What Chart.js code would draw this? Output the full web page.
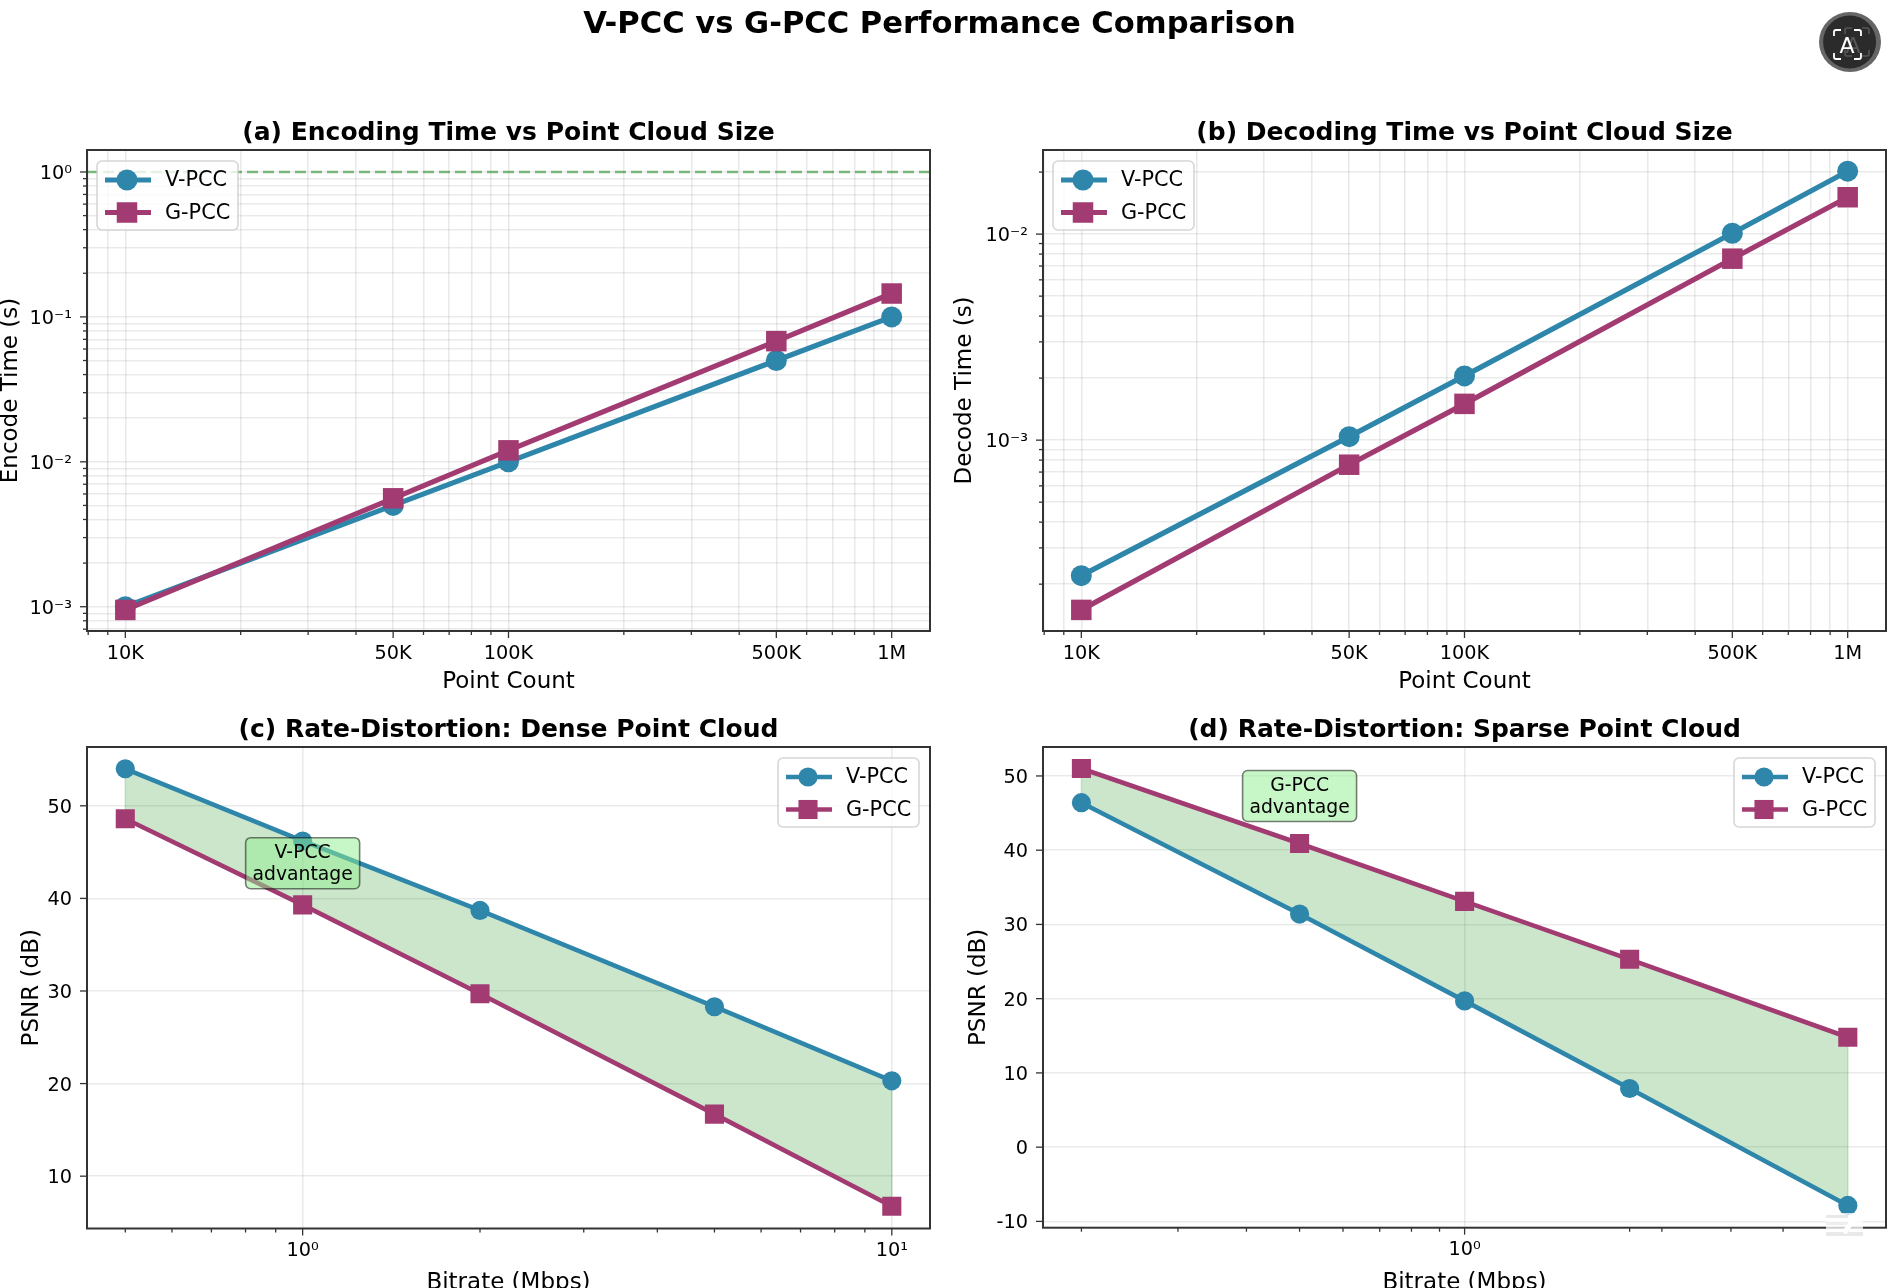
<!DOCTYPE html>
<html>
<head>
<meta charset="utf-8">
<title>V-PCC vs G-PCC Performance Comparison</title>
<script src="https://cdn.jsdelivr.net/npm/chart.js@4"></script>
<style>
  html, body { margin: 0; background: #fff; }
  body { position: relative; width: 1888px; height: 1288px; overflow: hidden; font-family: "DejaVu Sans", sans-serif; }
  canvas { position: absolute; }
  #heading { position: absolute; left: 0; width: 1879px; top: 5px; text-align: center; font-size: 30.6px; font-weight: bold; line-height: 36px; color: #000; will-change: transform; }
  svg.overlay { position: absolute; }
</style>
</head>
<body>
<div id="heading">V-PCC vs G-PCC Performance Comparison</div>
<canvas id="encode"></canvas>
<canvas id="decode"></canvas>
<canvas id="dense"></canvas>
<canvas id="sparse"></canvas>

<svg class="overlay" style="left:1816px;top:8px" width="70" height="68" viewBox="0 0 70 68">
  <ellipse cx="34" cy="34" rx="31" ry="30" fill="#666"/>
  <circle cx="33.6" cy="34" r="26.5" fill="#2b2b2b"/>
  <g fill="none" stroke="#555" stroke-width="1.6">
    <path d="M29 26v-4a2 2 0 0 1 2-2h5M46 20h5a2 2 0 0 1 2 2v4M53 42v4a2 2 0 0 1-2 2h-5M36 48h-5a2 2 0 0 1-2-2v-4"/>
  </g>
  <text x="37" y="45" font-size="22" fill="#555" text-anchor="middle" font-family="DejaVu Sans">A</text>
  <g fill="none" stroke="#fff" stroke-width="1.8">
    <path d="M18 28v-4a2 2 0 0 1 2-2h5M38 22h5a2 2 0 0 1 2 2v4M45 45v4a2 2 0 0 1-2 2h-5M25 51h-5a2 2 0 0 1-2-2v-4"/>
  </g>
  <text x="31" y="45" font-size="22" fill="#fff" text-anchor="middle" font-family="DejaVu Sans">A</text>
</svg>
<svg class="overlay" style="left:1826px;top:1213px" width="37" height="23" viewBox="0 0 37 23">
  <rect width="37" height="23" fill="#fff" opacity="0.75"/>
  <rect y="2" width="22" height="3" fill="#e9e9e9"/>
  <rect y="9" width="26" height="3" fill="#eee"/>
  <rect y="19" width="37" height="4" fill="#e9e9e9"/>
  <path d="M18 20L30 3" stroke="#fff" stroke-width="5"/>
</svg>

<script>
const V_COLOR = '#2E86AB';
const G_COLOR = '#A23B72';

// point cloud timing
const pointCounts = [1e4, 5e4, 1e5, 5e5, 1e6];
const pointLabels = ['10K', '50K', '100K', '500K', '1M'];
const encodeV = [0.001, 0.005, 0.01, 0.05, 0.1];
const encodeG = [0.00095, 0.0056, 0.012, 0.068, 0.145];
const decodeV = [0.00022, 0.00104, 0.00205, 0.0101, 0.0202];
const decodeG = [0.00015, 0.00076, 0.0015, 0.0076, 0.0151];
const realtimeLimit = 1;

// rate-distortion
const denseBitrates = [0.5, 1, 2, 5, 10];
const densePsnrV = [54, 46.2, 38.7, 28.3, 20.3];
const densePsnrG = [48.6, 39.3, 29.7, 16.7, 6.75];
const sparseBitrates = [0.2, 0.5, 1, 2, 5];
const sparsePsnrV = [46.4, 31.4, 19.7, 7.9, -7.85];
const sparsePsnrG = [51, 40.9, 33.1, 25.3, 14.8];

// axis ticks
const powerValues = [1e-3, 1e-2, 1e-1, 1];
const powerLabels = ['10⁻³', '10⁻²', '10⁻¹', '10⁰'];
const bitrateValues = [1, 10];
const bitrateLabels = ['10⁰', '10¹'];
const sparseBitrateTicks = [0.2, 0.3, 0.4, 0.5, 0.6, 0.7, 0.8, 0.9, 1, 2, 2.29, 3.06, 3.81, 5];
const densePsnrTicks = [10, 20, 30, 40, 50];
const sparsePsnrTicks = [-10, 0, 10, 20, 30, 40, 50];

const FONT = 'DejaVu Sans';
Chart.defaults.font.family = FONT;
Chart.defaults.color = '#000';

function logTicks(min, max) {
    const out = [];
    for (let e = Math.floor(Math.log10(min)); e <= Math.ceil(Math.log10(max)); e++) {
        for (let m = 1; m <= 9; m++) {
            const v = Number((m * Math.pow(10, e)).toPrecision(3));
            if (v >= min && v <= max) out.push(v);
        }
    }
    return out;
}

function findValue(values, v) {
    return values.findIndex(m => Math.abs(m / v - 1) < 1e-6);
}

// frame, tick marks, legend and the text box, all placed from the chart's scales
const panelDecor = {
    id: 'panelDecor',
    afterDatasetsDraw(chart) {
        const { ctx, chartArea: a, scales } = chart;
        ctx.save();
        ctx.strokeStyle = '#333';
        ctx.lineWidth = 1.3;
        scales.x.ticks.forEach(t => {
            const x = scales.x.getPixelForValue(t.value);
            ctx.beginPath();
            ctx.moveTo(x, a.bottom);
            ctx.lineTo(x, a.bottom + (t.major ? 7 : 4));
            ctx.stroke();
        });
        scales.y.ticks.forEach(t => {
            const y = scales.y.getPixelForValue(t.value);
            const minor = scales.y.type === 'logarithmic' && !t.major;
            ctx.beginPath();
            ctx.moveTo(a.left, y);
            ctx.lineTo(a.left - (minor ? 4 : 7), y);
            ctx.stroke();
        });
        ctx.lineWidth = 2;
        ctx.strokeRect(a.left, a.top, a.right - a.left, a.bottom - a.top);
        ctx.restore();
    },
    afterDraw(chart, args, opts) {
        const { ctx, chartArea: a, scales } = chart;
        ctx.save();
        if (opts.note) {
            const cx = scales.x.getPixelForValue(opts.note.x);
            const cy = scales.y.getPixelForValue(opts.note.y);
            ctx.beginPath();
            ctx.roundRect(cx - 57, cy - 25.5, 114, 51, 5);
            ctx.fillStyle = 'rgba(144,238,144,0.5)';
            ctx.fill();
            ctx.strokeStyle = 'rgba(0,0,0,0.5)';
            ctx.lineWidth = 1.6;
            ctx.stroke();
            ctx.fillStyle = '#000';
            ctx.font = '18.8px "' + FONT + '"';
            ctx.textAlign = 'center';
            ctx.textBaseline = 'middle';
            opts.note.lines.forEach((line, i) => ctx.fillText(line, cx, cy - 10 + i * 22));
        }
        const w = 141, h = 69;
        const left = opts.legendSide === 'left' ? a.left + 10 : a.right - 11 - w;
        const top = a.top + 11;
        ctx.beginPath();
        ctx.roundRect(left, top, w, h, 5);
        ctx.fillStyle = 'rgba(255,255,255,0.8)';
        ctx.fill();
        ctx.strokeStyle = 'rgba(204,204,204,0.8)';
        ctx.lineWidth = 1.6;
        ctx.stroke();
        chart.data.datasets.filter(d => d.inLegend).forEach((d, i) => {
            const y = top + 19 + i * 32.5;
            ctx.strokeStyle = d.borderColor;
            ctx.lineWidth = d.borderWidth;
            ctx.beginPath();
            ctx.moveTo(left + 8, y);
            ctx.lineTo(left + 54, y);
            ctx.stroke();
            ctx.fillStyle = d.borderColor;
            ctx.beginPath();
            if (d.pointStyle === 'rect') {
                const s = d.pointRadius * Math.SQRT1_2;
                ctx.rect(left + 30 - s, y - s, 2 * s, 2 * s);
            } else {
                ctx.arc(left + 30, y, d.pointRadius, 0, Math.PI * 2);
            }
            ctx.fill();
            ctx.fillStyle = '#000';
            ctx.font = '20.8px "' + FONT + '"';
            ctx.textAlign = 'left';
            ctx.textBaseline = 'middle';
            ctx.fillText(d.label, left + 68, y + 1);
        });
        ctx.restore();
    }
};

function series(label, color, style, xs, ys, size) {
    return {
        label: label,
        inLegend: true,
        data: xs.map((x, i) => ({ x: x, y: ys[i] })),
        borderColor: color,
        backgroundColor: color,
        borderWidth: size.line,
        pointStyle: style,
        pointRadius: style === 'rect' ? size.square : size.circle,
        pointBackgroundColor: color,
        pointBorderWidth: 0,
        tension: 0,
        fill: false,
        order: style === 'rect' ? 1 : 2
    };
}

function fillEdge(x, y0, y1) {
    return {
        data: [{ x: x, y: y0 }, { x: x, y: y1 }],
        borderColor: 'rgba(0,128,0,0.2)',
        borderWidth: 1.5,
        pointRadius: 0,
        fill: false,
        order: 3
    };
}

function makePanel(id, box, cfg) {
    const canvas = document.getElementById(id);
    const cLeft = box.yTitleX - 14;
    const cTop = box.t - 34;
    const width = Math.round(box.r + 3 - cLeft);
    const height = Math.round(box.xTitleY + 14 - cTop);
    canvas.width = width;
    canvas.height = height;
    canvas.style.left = cLeft + 'px';
    canvas.style.top = cTop + 'px';

    const gridLine = 'rgba(128,128,128,0.17)';
    new Chart(canvas, {
        type: 'line',
        data: { datasets: cfg.datasets },
        plugins: [panelDecor],
        options: {
            responsive: false,
            animation: false,
            layout: { autoPadding: false, padding: { right: 3 } },
            plugins: {
                legend: { display: false },
                tooltip: { enabled: false },
                title: {
                    display: true,
                    text: cfg.title,
                    fullSize: false,
                    font: { size: 25, weight: 'bold' },
                    color: '#000',
                    padding: { top: 2.5, bottom: 1.5 }
                },
                panelDecor: { legendSide: cfg.legendSide, note: cfg.note }
            },
            scales: {
                x: {
                    type: 'logarithmic',
                    bounds: 'data',
                    min: cfg.xMin,
                    max: cfg.xMax,
                    afterBuildTicks(scale) {
                        scale.ticks = cfg.xTicks.map(v => ({ value: v, major: findValue(cfg.xMajor, v) >= 0 }));
                    },
                    afterFit(scale) { scale.height = height - (box.b - cTop); },
                    grid: {
                        drawTicks: false,
                        lineWidth: 1.6,
                        color: c => (cfg.minorGrid || (c.tick && c.tick.major)) ? gridLine : 'rgba(0,0,0,0)'
                    },
                    border: { display: false },
                    ticks: {
                        autoSkip: false,
                        maxRotation: 0,
                        padding: 11,
                        color: '#000',
                        font: { size: 19.3 },
                        callback(v) {
                            const i = findValue(cfg.xMajor, v);
                            return i < 0 ? '' : cfg.xLabels[i];
                        }
                    },
                    title: { display: true, text: cfg.xTitle, font: { size: 23 }, color: '#000', padding: 0 }
                },
                y: {
                    type: cfg.yLog ? 'logarithmic' : 'linear',
                    bounds: 'data',
                    min: cfg.yMin,
                    max: cfg.yMax,
                    afterBuildTicks(scale) {
                        const list = cfg.yLog ? logTicks(cfg.yMin, cfg.yMax) : cfg.yTicks;
                        scale.ticks = list.map(v => ({ value: v, major: !cfg.yLog || findValue(powerValues, v) >= 0 }));
                    },
                    afterFit(scale) { scale.width = box.l - cLeft; },
                    grid: { drawTicks: false, lineWidth: 1.6, color: gridLine },
                    border: { display: false },
                    ticks: {
                        autoSkip: false,
                        padding: 15,
                        labelOffset: 2,
                        color: '#000',
                        font: { size: 19.3 },
                        callback(v) {
                            if (!cfg.yLog) return String(v);
                            const i = findValue(powerValues, v);
                            return i < 0 ? '' : powerLabels[i];
                        }
                    },
                    title: { display: true, text: cfg.yTitle, font: { size: 23 }, color: '#000', padding: 0 }
                }
            }
        }
    });
}

const timingSize = { line: 5.2, circle: 10.5, square: 14.5 };
const rdSize = { line: 4.6, circle: 9.6, square: 13.5 };
const countTicks = logTicks(7943, 1259000);

makePanel('encode', { l: 87, t: 150, r: 929.5, b: 631, yTitleX: 11, xTitleY: 682 }, {
    title: '(a) Encoding Time vs Point Cloud Size',
    datasets: [
        series('V-PCC', V_COLOR, 'circle', pointCounts, encodeV, timingSize),
        series('G-PCC', G_COLOR, 'rect', pointCounts, encodeG, timingSize),
        {
            data: [{ x: 7943, y: realtimeLimit }, { x: 1259000, y: realtimeLimit }],
            borderColor: 'rgba(0,128,0,0.5)',
            borderWidth: 2.6,
            borderDash: [11, 5],
            pointRadius: 0,
            fill: false,
            order: 3
        }
    ],
    xMin: 7943, xMax: 1259000, xTicks: countTicks, xMajor: pointCounts, xLabels: pointLabels,
    xTitle: 'Point Count', yTitle: 'Encode Time (s)',
    yLog: true, yMin: 0.00068, yMax: 1.418, minorGrid: true, legendSide: 'left'
});

makePanel('decode', { l: 1043, t: 150, r: 1885.7, b: 631, yTitleX: 965, xTitleY: 682 }, {
    title: '(b) Decoding Time vs Point Cloud Size',
    datasets: [
        series('V-PCC', V_COLOR, 'circle', pointCounts, decodeV, timingSize),
        series('G-PCC', G_COLOR, 'rect', pointCounts, decodeG, timingSize)
    ],
    xMin: 7943, xMax: 1259000, xTicks: countTicks, xMajor: pointCounts, xLabels: pointLabels,
    xTitle: 'Point Count', yTitle: 'Decode Time (s)',
    yLog: true, yMin: 0.0001185, yMax: 0.0256, minorGrid: true, legendSide: 'left'
});

function rdDatasets(xs, v, g) {
    const vLine = series('V-PCC', V_COLOR, 'circle', xs, v, rdSize);
    // green band between the two curves
    vLine.fill = { target: 1, above: 'rgba(0,128,0,0.2)', below: 'rgba(0,128,0,0.2)' };
    return [
        vLine,
        series('G-PCC', G_COLOR, 'rect', xs, g, rdSize),
        fillEdge(xs[0], v[0], g[0]),
        fillEdge(xs[xs.length - 1], v[v.length - 1], g[g.length - 1])
    ];
}

makePanel('dense', { l: 87, t: 747, r: 929.5, b: 1228.5, yTitleX: 32, xTitleY: 1283 }, {
    title: '(c) Rate-Distortion: Dense Point Cloud',
    datasets: rdDatasets(denseBitrates, densePsnrV, densePsnrG),
    xMin: 0.4305, xMax: 11.61, xTicks: logTicks(0.4305, 11.61), xMajor: bitrateValues, xLabels: bitrateLabels,
    xTitle: 'Bitrate (Mbps)', yTitle: 'PSNR (dB)',
    yLog: false, yMin: 4.35, yMax: 56.35, yTicks: densePsnrTicks, minorGrid: false, legendSide: 'right',
    note: { x: 1, y: 43.8, lines: ['V-PCC', 'advantage'] }
});

makePanel('sparse', { l: 1043, t: 747.3, r: 1885.7, b: 1228, yTitleX: 979, xTitleY: 1283 }, {
    title: '(d) Rate-Distortion: Sparse Point Cloud',
    datasets: rdDatasets(sparseBitrates, sparsePsnrV, sparsePsnrG),
    xMin: 0.1702, xMax: 5.87, xTicks: sparseBitrateTicks, xMajor: bitrateValues, xLabels: bitrateLabels,
    xTitle: 'Bitrate (Mbps)', yTitle: 'PSNR (dB)',
    yLog: false, yMin: -10.85, yMax: 53.9, yTicks: sparsePsnrTicks, minorGrid: false, legendSide: 'right',
    note: { x: 0.5, y: 47.3, lines: ['G-PCC', 'advantage'] }
});
</script>
</body>
</html>
